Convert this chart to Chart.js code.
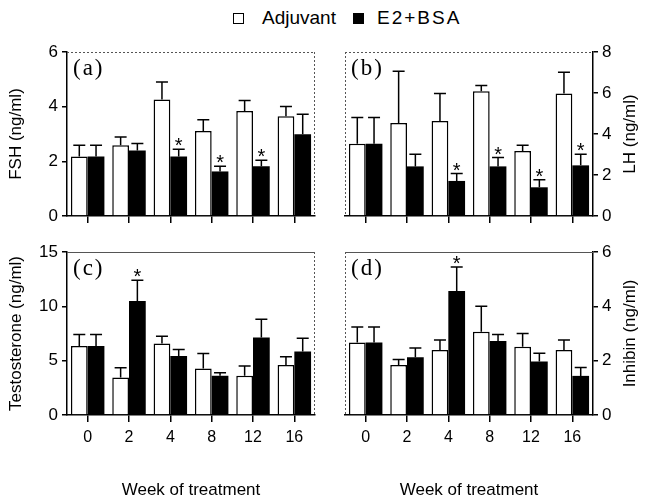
<!DOCTYPE html>
<html>
<head>
<meta charset="utf-8">
<script src="https://cdn.jsdelivr.net/npm/chart.js@4.4.1/dist/chart.umd.min.js"></script>
<style>
  html, body { margin: 0; padding: 0; background: #fff; }
  body { width: 646px; height: 501px; position: relative; overflow: hidden;
         font-family: "Liberation Sans", Arial, sans-serif; color: #000; }
  canvas { position: absolute; }
  #legend { position: absolute; left: 0; top: 7px; width: 646px; height: 22px; font-size: 19px; }
  #legend .box { position: absolute; top: 5.5px; width: 11px; height: 11px; box-sizing: border-box; border: 1.5px solid #000; }
  #legend .txt { position: absolute; top: 0; line-height: 22px; white-space: nowrap; }
</style>
</head>
<body>
<div id="legend">
  <span class="box" style="left:233px;background:#fff"></span>
  <span class="txt" style="left:262px">Adjuvant</span>
  <span class="box" style="left:353px;background:#000"></span>
  <span class="txt" style="left:377px;letter-spacing:2px">E2+BSA</span>
</div>
<canvas id="fsh" width="330" height="200" style="left:0;top:30px"></canvas>
<canvas id="lh" width="316" height="200" style="left:330px;top:30px"></canvas>
<canvas id="testo" width="330" height="271" style="left:0;top:230px"></canvas>
<canvas id="inhibin" width="316" height="271" style="left:330px;top:230px"></canvas>
<script>
// Weeks of treatment
const weeks = ['0', '2', '4', '8', '12', '16'];

// FSH (ng/ml): means and SEM for each group, * = significant vs adjuvant
const fshAdjuvant    = [2.18, 2.59, 4.26, 3.11, 3.84, 3.65];
const fshAdjuvantErr = [0.41, 0.30, 0.64, 0.41, 0.39, 0.36];
const fshE2          = [2.18, 2.40, 2.18, 1.63, 1.82, 2.99];
const fshE2Err       = [0.41, 0.25, 0.26, 0.19, 0.22, 0.73];
const fshStars       = [false, false, true, true, true, false];

// LH (ng/ml)
const lhAdjuvant    = [3.53, 4.54, 4.63, 6.08, 3.17, 5.97];
const lhAdjuvantErr = [1.27, 2.52, 1.34, 0.29, 0.28, 1.04];
const lhE2          = [3.53, 2.42, 1.71, 2.42, 1.40, 2.47];
const lhE2Err       = [1.27, 0.59, 0.36, 0.43, 0.37, 0.54];
const lhStars       = [false, false, true, true, true, true];

// Testosterone (ng/ml)
const testoAdjuvant    = [6.34, 3.46, 6.58, 4.29, 3.61, 4.59];
const testoAdjuvantErr = [1.07, 0.89, 0.67, 1.37, 0.89, 0.77];
const testoE2          = [6.34, 10.50, 5.42, 3.61, 7.13, 5.85];
const testoE2Err       = [1.07, 1.90, 0.61, 0.28, 1.69, 1.22];
const testoStars       = [false, true, false, false, false, false];

// Inhibin (ng/ml)
const inhibinAdjuvant    = [2.67, 1.84, 2.39, 3.06, 2.51, 2.39];
const inhibinAdjuvantErr = [0.57, 0.20, 0.37, 0.94, 0.49, 0.37];
const inhibinE2          = [2.67, 2.13, 4.56, 2.72, 1.97, 1.44];
const inhibinE2Err       = [0.57, 0.34, 0.89, 0.24, 0.30, 0.31];
const inhibinStars       = [false, false, true, false, false, false];

const FONT = '"Liberation Sans", Arial, sans-serif';

// Upward-only SEM whiskers with caps, and significance asterisks
const errorBarPlugin = {
  id: 'errorBars',
  afterDatasetsDraw(chart) {
    const ctx = chart.ctx;
    const y = chart.scales.y;
    ctx.save();
    ctx.strokeStyle = '#000';
    ctx.lineWidth = 1.5;
    chart.data.datasets.forEach((ds, di) => {
      const meta = chart.getDatasetMeta(di);
      meta.data.forEach((bar, i) => {
        const top = y.getPixelForValue(ds.data[i] + ds.errors[i]);
        ctx.beginPath();
        ctx.moveTo(bar.x, bar.y);
        ctx.lineTo(bar.x, top);
        ctx.moveTo(bar.x - 6, top);
        ctx.lineTo(bar.x + 6, top);
        ctx.stroke();
        if (ds.stars && ds.stars[i]) {
          ctx.fillStyle = '#000';
          ctx.font = '20px ' + FONT;
          ctx.textAlign = 'center';
          ctx.textBaseline = 'alphabetic';
          ctx.fillText('*', bar.x, top + 3);
        }
      });
    });
    ctx.restore();
  }
};

// Panel letter, dotted frame sides, and right-hand axis title
const decorPlugin = {
  id: 'decor',
  afterDraw(chart, args, opts) {
    const ctx = chart.ctx;
    const a = chart.chartArea;
    ctx.save();
    // frame: top edge and the side opposite to the value axis
    ctx.strokeStyle = '#555';
    ctx.lineWidth = 1;
    ctx.setLineDash(opts.topDotted ? [2, 2] : []);
    ctx.beginPath();
    ctx.moveTo(a.left, a.top + 0.5);
    ctx.lineTo(a.right, a.top + 0.5);
    ctx.stroke();
    ctx.setLineDash([2, 2]);
    const sx = opts.axisRight ? a.left + 0.5 : a.right - 0.5;
    ctx.beginPath();
    ctx.moveTo(sx, a.top);
    ctx.lineTo(sx, a.bottom);
    ctx.stroke();
    ctx.setLineDash([]);
    // panel letter
    ctx.fillStyle = '#000';
    ctx.font = '23px "Liberation Serif", "Times New Roman", serif';
    ctx.textAlign = 'left';
    ctx.textBaseline = 'middle';
    if ('letterSpacing' in ctx) ctx.letterSpacing = '2px';
    ctx.fillText(opts.letter, a.left + 6, a.top + 17);
    if ('letterSpacing' in ctx) ctx.letterSpacing = '0px';
    // right-hand axis title, reading upward
    if (opts.rightTitle) {
      ctx.translate(opts.rightTitleX, (a.top + a.bottom) / 2);
      ctx.rotate(-Math.PI / 2);
      ctx.font = '17px ' + FONT;
      ctx.textAlign = 'center';
      ctx.textBaseline = 'middle';
      ctx.fillText(opts.rightTitle, 0, 0);
    }
    ctx.restore();
  }
};

function makePanel(id, cfg) {
  const right = cfg.axisRight;
  return new Chart(document.getElementById(id), {
    type: 'bar',
    data: {
      labels: weeks,
      datasets: [
        { label: 'Adjuvant', data: cfg.adj, errors: cfg.adjErr,
          backgroundColor: '#fff', borderColor: '#000', borderWidth: 1.5,
          categoryPercentage: 0.81, barPercentage: 1.0 },
        { label: 'E2+BSA', data: cfg.e2, errors: cfg.e2Err, stars: cfg.stars,
          backgroundColor: '#000', borderColor: '#000', borderWidth: 0,
          categoryPercentage: 0.81, barPercentage: 1.0 }
      ]
    },
    options: {
      responsive: false,
      animation: false,
      events: [],
      layout: { padding: right ? { top: 22, left: 15, right: 0, bottom: 0 }
                               : { top: 22, left: 0, right: 15, bottom: 0 } },
      plugins: {
        legend: { display: false },
        tooltip: { enabled: false },
        decor: { letter: cfg.letter, topDotted: cfg.topDotted, axisRight: right,
                 rightTitle: right ? cfg.title : null, rightTitleX: 300 }
      },
      scales: {
        x: {
          offset: true,
          grid: { offset: false, drawOnChartArea: false, drawTicks: true, tickLength: 7,
                  color: '#000', lineWidth: 1.5 },
          border: { color: '#000', width: 1.5 },
          ticks: { display: cfg.bottom, color: '#000', font: { family: FONT, size: 16 },
                   padding: 6, maxRotation: 0, autoSkip: false },
          title: { display: cfg.bottom, text: 'Week of treatment', color: '#000',
                   font: { family: FONT, size: 17 }, padding: { top: 0, bottom: 0 } },
          afterFit(s) {
            s.height = cfg.bottom ? 86 : 14;
            s.paddingLeft = 0; s.paddingRight = 0;
          }
        },
        y: {
          position: right ? 'right' : 'left',
          min: 0, max: cfg.max,
          ticks: { stepSize: cfg.step, color: '#000', font: { family: FONT, size: 17 }, padding: 4 },
          grid: { drawOnChartArea: false, drawTicks: true, tickLength: 5, color: '#000', lineWidth: 1.5 },
          border: { color: '#000', width: 1.5 },
          title: { display: !right, text: cfg.title, color: '#000',
                   font: { family: FONT, size: 17 }, padding: { top: 6, bottom: 0 } },
          afterFit(s) {
            s.width = right ? 53 : 67;
            s.paddingTop = 0; s.paddingBottom = 0;
          }
        }
      }
    },
    plugins: [errorBarPlugin, decorPlugin]
  });
}

makePanel('fsh', { letter: '(a)', title: 'FSH (ng/ml)', max: 6, step: 2,
  adj: fshAdjuvant, adjErr: fshAdjuvantErr, e2: fshE2, e2Err: fshE2Err, stars: fshStars,
  axisRight: false, bottom: false, topDotted: true });
makePanel('lh', { letter: '(b)', title: 'LH (ng/ml)', max: 8, step: 2,
  adj: lhAdjuvant, adjErr: lhAdjuvantErr, e2: lhE2, e2Err: lhE2Err, stars: lhStars,
  axisRight: true, bottom: false, topDotted: true });
makePanel('testo', { letter: '(c)', title: 'Testosterone (ng/ml)', max: 15, step: 5,
  adj: testoAdjuvant, adjErr: testoAdjuvantErr, e2: testoE2, e2Err: testoE2Err, stars: testoStars,
  axisRight: false, bottom: true, topDotted: false });
makePanel('inhibin', { letter: '(d)', title: 'Inhibin (ng/ml)', max: 6, step: 2,
  adj: inhibinAdjuvant, adjErr: inhibinAdjuvantErr, e2: inhibinE2, e2Err: inhibinE2Err, stars: inhibinStars,
  axisRight: true, bottom: true, topDotted: false });
</script>
</body>
</html>
